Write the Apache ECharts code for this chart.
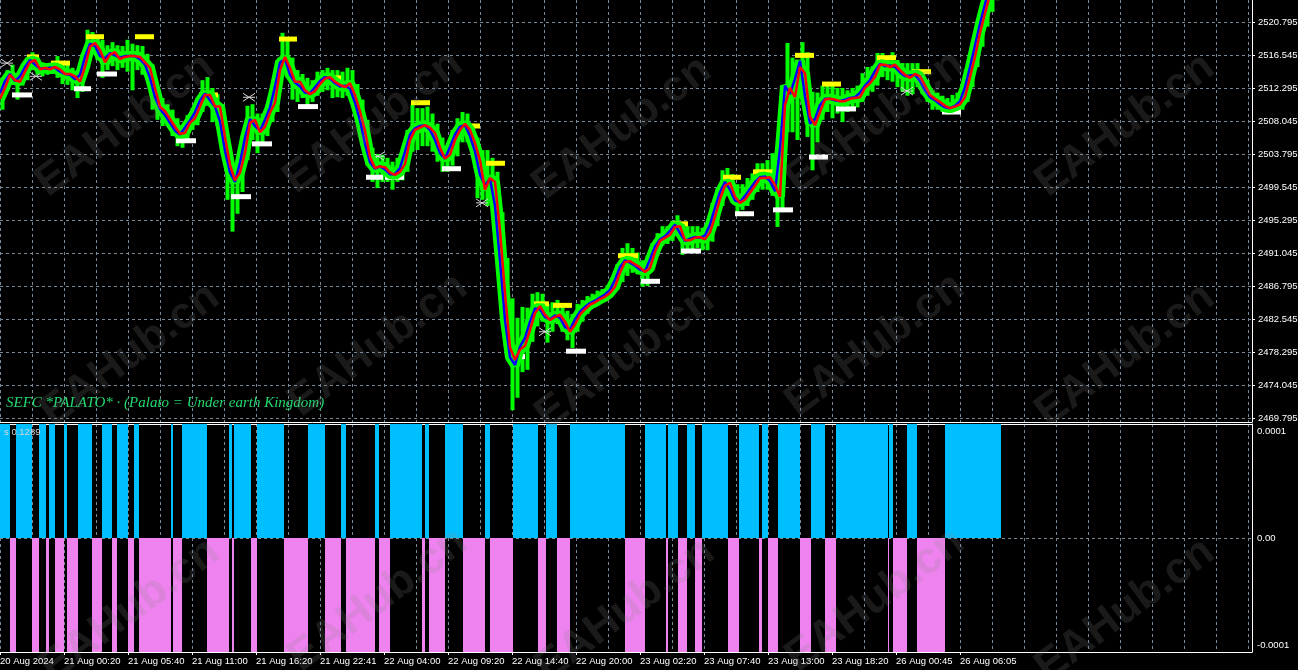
<!DOCTYPE html>
<html><head><meta charset="utf-8">
<script src="https://cdn.jsdelivr.net/npm/echarts@6/dist/echarts.min.js"></script>
<style>html,body{margin:0;padding:0;background:#000;}#chart{width:1298px;height:670px;}</style>
</head><body><div id="chart"></div>
<script>
// ---------- DATA ----------
const timeLabels = ['20 Aug 2024','21 Aug 00:20','21 Aug 05:40','21 Aug 11:00','21 Aug 16:20','21 Aug 22:41','22 Aug 04:00','22 Aug 09:20','22 Aug 14:40','22 Aug 20:00','23 Aug 02:20','23 Aug 07:40','23 Aug 13:00','23 Aug 18:20','26 Aug 00:45','26 Aug 06:05'];
const timeLabelBars = [0,64,128,192,256,320,384,448,512,576,640,704,768,832,896,960];
const priceTicks = [2469.795,2474.045,2478.295,2482.545,2486.795,2491.045,2495.295,2499.545,2503.795,2508.045,2512.295,2516.545,2520.795];
const oscTicks = [-0.0001, 0, 0.0001];
const sampleBars = 5; // each sample below covers 5 M5 bars

const maSlow = [
2510.9,2512.3,2514.0,2513.3,2513.1,2514.4,2515.6,2515.9,2514.7,2514.9,
2514.7,2515.0,2514.7,2514.1,2514.1,2513.8,2513.1,2515.0,2517.6,2518.1,
2517.2,2515.6,2516.6,2516.9,2516.0,2516.3,2516.4,2516.4,2516.3,2515.6,
2514.9,2512.3,2509.9,2509.3,2508.3,2507.3,2506.4,2506.5,2507.8,2508.4,
2509.9,2511.4,2511.4,2509.9,2509.9,2506.0,2502.4,2500.4,2501.4,2503.9,
2507.8,2508.2,2506.6,2507.3,2509.1,2510.4,2514.6,2516.3,2514.9,2513.1,
2513.1,2512.0,2511.5,2511.9,2512.8,2513.5,2513.7,2513.1,2512.7,2512.4,
2512.9,2511.4,2509.3,2506.8,2503.4,2502.0,2502.2,2502.1,2501.4,2501.1,
2501.5,2502.5,2505.6,2506.9,2507.2,2507.5,2507.2,2506.5,2504.6,2503.2,
2503.7,2505.6,2506.9,2507.7,2506.9,2505.2,2503.0,2499.2,2500.7,2500.2,
2494.0,2485.9,2478.9,2477.3,2478.6,2479.1,2481.1,2483.3,2484.2,2483.1,
2482.4,2482.8,2483.1,2482.2,2480.9,2481.8,2483.1,2483.8,2484.4,2484.7,
2485.1,2485.4,2485.9,2486.7,2488.5,2489.9,2490.0,2489.6,2489.2,2488.6,
2489.1,2491.2,2492.6,2493.0,2493.4,2494.4,2494.5,2492.7,2492.7,2493.0,
2493.1,2492.8,2493.7,2495.7,2498.0,2499.7,2500.1,2498.3,2497.5,2497.9,
2498.8,2499.7,2500.7,2500.7,2500.8,2499.8,2498.3,2510.1,2512.3,2511.1,
2515.0,2514.2,2508.6,2507.5,2509.2,2510.8,2510.9,2510.8,2510.6,2510.6,
2510.9,2511.0,2511.1,2512.3,2512.9,2513.7,2515.3,2515.3,2515.0,2515.3,
2514.6,2514.0,2513.6,2514.1,2513.8,2512.6,2511.4,2510.9,2510.5,2510.0,
2509.7,2509.9,2510.2,2511.1,2513.7,2516.3,2519.4,2521.9,2524.3,2526.8];

const maFast = [
2511.6,2513.2,2514.1,2513.2,2513.8,2515.0,2515.9,2515.3,2514.8,2514.8,
2514.9,2514.9,2514.4,2514.1,2514.0,2513.4,2514.0,2516.3,2518.0,2517.7,
2516.4,2516.1,2516.8,2516.5,2516.2,2516.4,2516.4,2516.4,2516.0,2515.3,
2513.6,2511.1,2509.6,2508.8,2507.8,2506.8,2506.3,2507.2,2508.1,2509.2,
2510.7,2511.6,2510.7,2509.9,2508.0,2504.2,2501.4,2500.2,2502.7,2505.9,
2508.3,2507.4,2506.8,2508.2,2509.8,2512.5,2515.6,2516.0,2514.0,2513.0,
2512.5,2511.7,2511.6,2512.4,2513.2,2513.7,2513.5,2512.9,2512.5,2512.6,
2512.2,2510.4,2508.1,2505.1,2502.7,2501.9,2502.2,2501.8,2501.2,2501.2,
2502.0,2504.1,2506.3,2507.1,2507.4,2507.5,2506.9,2505.6,2503.9,2503.2,
2504.7,2506.3,2507.3,2507.5,2506.1,2504.1,2501.1,2499.8,2500.6,2497.1,
2490.0,2482.4,2477.6,2476.6,2479.0,2480.1,2482.2,2483.9,2483.8,2482.8,
2482.5,2483.0,2482.7,2481.5,2481.2,2482.5,2483.5,2484.1,2484.6,2484.9,
2485.3,2485.7,2486.3,2487.6,2489.2,2490.1,2489.8,2489.4,2488.9,2488.7,
2490.2,2491.9,2492.8,2493.2,2493.9,2494.7,2493.6,2492.6,2492.9,2493.1,
2493.0,2493.3,2494.7,2496.9,2498.9,2500.2,2499.2,2497.8,2497.6,2498.4,
2499.3,2500.2,2500.8,2500.9,2500.3,2499.0,2504.5,2512.6,2511.5,2513.5,
2515.8,2511.2,2507.7,2508.3,2510.1,2510.9,2510.9,2510.7,2510.6,2510.8,
2511.0,2511.1,2511.7,2512.6,2513.3,2514.5,2515.4,2515.1,2515.2,2515.0,
2514.3,2513.8,2513.9,2514.0,2513.2,2512.0,2511.1,2510.7,2510.2,2509.8,
2509.7,2510.0,2510.6,2512.4,2515.0,2517.8,2520.6,2523.1,2525.5,2528.0];

const barHigh = [
2513.6,2514.6,2515.3,2514.1,2514.6,2515.9,2516.9,2516.2,2515.6,2515.5,
2515.6,2516.4,2515.4,2515.3,2514.9,2514.6,2516.6,2519.8,2519.5,2519.1,
2518.5,2517.8,2518.2,2517.8,2517.7,2518.5,2518.0,2517.8,2517.7,2516.7,
2515.3,2512.3,2511.0,2510.2,2509.5,2508.4,2507.4,2508.8,2509.7,2511.0,
2513.3,2513.7,2512.3,2511.5,2510.2,2504.6,2502.4,2502.0,2505.0,2510.0,
2510.2,2509.0,2509.0,2510.2,2511.5,2515.9,2519.4,2518.5,2516.2,2514.6,
2514.1,2513.6,2513.3,2514.4,2514.6,2514.9,2514.6,2514.6,2514.4,2514.9,
2514.6,2512.8,2510.8,2508.2,2504.6,2503.8,2503.7,2503.3,2502.8,2503.3,
2504.3,2506.9,2510.1,2509.7,2509.7,2509.9,2509.0,2507.7,2505.9,2504.6,
2506.9,2508.4,2509.2,2509.0,2507.7,2505.9,2504.3,2504.3,2503.3,2501.5,
2496.3,2490.4,2485.2,2482.7,2484.1,2484.0,2485.8,2486.0,2485.8,2484.5,
2484.7,2485.0,2484.0,2483.6,2483.2,2484.5,2485.0,2485.5,2485.8,2486.2,
2486.4,2486.9,2487.8,2489.6,2491.7,2492.3,2491.7,2491.1,2490.1,2490.7,
2492.3,2493.6,2494.5,2494.5,2495.2,2495.9,2495.0,2494.5,2494.5,2494.5,
2494.3,2494.5,2497.5,2499.4,2501.7,2502.0,2501.2,2499.9,2499.9,2500.7,
2501.3,2502.6,2502.6,2503.0,2503.9,2501.5,2511.0,2518.1,2516.2,2514.4,
2518.2,2516.9,2511.8,2511.7,2512.6,2512.8,2512.6,2512.3,2512.3,2512.0,
2512.3,2512.6,2514.2,2515.0,2515.1,2516.8,2516.8,2516.4,2516.9,2515.9,
2515.5,2515.5,2515.5,2515.5,2514.6,2513.3,2512.0,2511.7,2511.3,2511.0,
2511.4,2511.7,2512.3,2514.9,2518.1,2520.7,2523.2,2524.9,2526.2,2527.5];

const barLow = [
2509.5,2512.0,2512.7,2510.8,2512.6,2513.3,2514.6,2514.0,2513.8,2514.0,
2514.1,2513.6,2512.8,2512.7,2512.0,2511.0,2511.8,2515.1,2516.6,2515.9,
2513.6,2514.6,2515.1,2514.6,2514.9,2514.4,2512.0,2514.6,2514.0,2513.3,
2509.5,2508.2,2507.4,2507.4,2506.1,2504.8,2504.6,2505.3,2506.9,2507.5,
2509.2,2510.0,2507.9,2507.4,2504.1,2497.9,2493.8,2496.1,2498.9,2503.0,
2505.6,2503.9,2505.3,2506.1,2507.9,2509.2,2513.8,2513.6,2510.8,2510.5,
2511.0,2510.0,2510.5,2511.3,2511.8,2512.0,2511.0,2511.1,2511.0,2511.3,
2510.8,2507.9,2505.6,2502.3,2500.2,2499.4,2500.2,2500.2,2499.2,2500.2,
2500.4,2501.5,2504.1,2504.3,2504.8,2504.8,2504.1,2502.8,2501.5,2501.5,
2502.3,2503.5,2505.3,2505.3,2504.1,2498.1,2497.9,2497.1,2498.4,2494.0,
2485.5,2479.6,2470.8,2472.4,2475.7,2476.0,2479.6,2481.6,2482.2,2479.5,
2480.9,2481.9,2480.9,2479.8,2478.8,2480.9,2482.2,2483.2,2484.0,2484.5,
2484.9,2485.1,2485.8,2486.3,2487.3,2488.1,2488.5,2488.3,2486.7,2486.8,
2488.9,2490.7,2492.0,2492.2,2492.6,2493.2,2490.8,2491.2,2491.4,2491.7,
2491.4,2491.4,2492.5,2494.5,2497.1,2498.4,2497.6,2496.3,2496.6,2497.1,
2497.9,2498.9,2499.2,2499.2,2498.4,2494.4,2496.3,2506.6,2506.6,2505.6,
2510.5,2506.0,2501.7,2505.3,2508.2,2509.2,2508.4,2509.0,2507.9,2509.2,
2509.5,2509.8,2510.5,2511.3,2511.8,2512.6,2513.7,2513.3,2513.1,2512.4,
2511.8,2511.3,2511.5,2512.4,2511.5,2510.5,2509.5,2509.5,2509.2,2508.9,
2509.2,2509.2,2509.5,2510.5,2512.4,2515.0,2517.6,2520.2,2522.1,2523.6];

// [fromBar, toBar, price]
const resistLevels = [[27,39,2516.3],[51,70,2515.5],[86,104,2518.9],[135,154,2518.9],[199,218,2511.4],[279,297,2518.6],[322,341,2513.6],[411,430,2510.4],[464,480,2507.4],[486,505,2502.6],[534,549,2484.5],[553,572,2484.3],[618,638,2490.7],[673,688,2494.8],[723,741,2500.8],[753,773,2501.5],[795,814,2516.5],[822,841,2512.8],[877,896,2516.2],[912,931,2514.4]];
const supportLevels = [[12,32,2511.4],[74,91,2512.2],[97,117,2514.1],[176,196,2505.5],[231,251,2498.3],[252,272,2505.1],[298,318,2509.9],[366,383,2500.8],[385,404,2500.8],[442,461,2501.9],[508,525,2477.7],[566,586,2478.4],[641,660,2487.4],[681,701,2491.3],[735,754,2496.1],[773,793,2496.6],[809,828,2503.4],[836,856,2509.6],[942,961,2509.2]];
// [bar, price]
const signalMarks = [[7,2515.5],[36,2513.8],[249,2511.1],[378,2503.5],[482,2497.5],[545,2480.9],[907,2511.9]];
// oscillator histogram runs [fromBar, toBar, value]
const oscRuns = [[0,10,0.13],[10,16,-0.13],[16,32,0.13],[32,39,-0.13],[39,46,0.13],[46,49,-0.13],[49,55,0.13],[55,64,-0.13],[64,67,0.13],[67,78,-0.13],[78,92,0.13],[92,102,-0.13],[102,112,0.13],[112,117,-0.13],[117,128,0.13],[128,134,-0.13],[134,139,0.13],[139,171,-0.13],[171,173,0.13],[173,182,-0.13],[182,207,0.13],[207,229,-0.13],[229,232,0.13],[232,234,-0.13],[234,251,0.13],[251,257,-0.13],[257,284,0.13],[284,308,-0.13],[308,325,0.13],[325,341,-0.13],[341,346,0.13],[346,375,-0.13],[375,379,0.13],[379,390,-0.13],[390,422,0.13],[422,425,-0.13],[425,429,0.13],[429,445,-0.13],[445,463,0.13],[463,485,-0.13],[485,490,0.13],[490,513,-0.13],[513,538,0.13],[538,546,-0.13],[546,557,0.13],[557,570,-0.13],[570,625,0.13],[625,645,-0.13],[645,666,0.13],[666,668,-0.13],[668,678,0.13],[678,687,-0.13],[687,695,0.13],[695,702,-0.13],[702,728,0.13],[728,739,-0.13],[739,759,0.13],[759,762,-0.13],[762,768,0.13],[768,778,-0.13],[778,800,0.13],[800,811,-0.13],[811,825,0.13],[825,836,-0.13],[836,888,0.13],[888,889,-0.13],[889,893,0.13],[893,907,-0.13],[907,917,0.13],[917,945,-0.13],[945,1001,0.13]];

// ---------- CHART ----------
const chart = echarts.init(document.getElementById('chart'), null, {renderer:'canvas'});
const gridColor = '#778899';
const font = '"Liberation Sans", Arial, sans-serif';
const split = {show:true, lineStyle:{color:gridColor, type:[3,3], width:1}};
const priceGreen = '#00ff00';

function clipTo(params, x, y, w, h) {
  const cs = params.coordSys;
  return echarts.graphic.clipRectByRect({x:x, y:y, width:w, height:h}, {x:cs.x, y:cs.y, width:cs.width, height:cs.height});
}
function levelRect(color) {
  return function (params, api) {
    const a = api.coord([api.value(0), api.value(2)]);
    const b = api.coord([api.value(1), api.value(2)]);
    const r = clipTo(params, a[0], a[1] - 2.5, b[0] - a[0], 5);
    return r ? {type:'rect', shape:r, style:{fill:color}} : null;
  };
}
function maLine(name, values, color, width) {
  return {type:'line', name:name, xAxisIndex:0, yAxisIndex:0, silent:true, symbol:'none',
    data:values.map(function(v,i){return [i*sampleBars, v];}), lineStyle:{color:color, width:width}};
}

const wmCenters = [[125,125],[373,122],[622,128],[875,122],[1125,125],[130,355],[378,345],[625,358],[875,345],[1125,355],[130,610],[378,600],[625,610],[875,600],[1125,610]];

chart.setOption({
  backgroundColor:'#000000',
  animation:false,
  grid:[
    {left:0, top:0, width:1252, height:422, outerBoundsMode:'none', containLabel:false},
    {left:0, top:424, width:1252, height:228, outerBoundsMode:'none', containLabel:false}
  ],
  xAxis:[
    {gridIndex:0, type:'value', min:0, max:1252, interval:32, position:'bottom',
     axisLine:{show:true, onZero:false, lineStyle:{color:'#ffffff', width:1}}, axisTick:{show:false}, axisLabel:{show:false}, splitLine:split},
    {gridIndex:1, type:'value', min:0, max:1252, interval:32, position:'top',
     axisLine:{show:true, onZero:false, lineStyle:{color:'#ffffff', width:1}}, axisTick:{show:false}, axisLabel:{show:false}, splitLine:split},
    {gridIndex:1, type:'value', min:0, max:1252, position:'bottom',
     axisLine:{show:true, onZero:false, lineStyle:{color:'#ffffff', width:1}},
     axisTick:{show:true, length:3, customValues:timeLabelBars, lineStyle:{color:'#ffffff'}},
     axisLabel:{customValues:timeLabelBars, formatter:function(v){const k=timeLabelBars.indexOf(v);return k>=0?timeLabels[k]:'';},
       color:'#ffffff', align:'left', margin:4, fontSize:9.5, fontFamily:font},
     splitLine:{show:false}}
  ],
  yAxis:[
    {gridIndex:0, type:'value', position:'right', min:2469.280, max:2523.628,
     axisLine:{show:true, onZero:false, lineStyle:{color:'#ffffff', width:1}},
     axisTick:{show:true, length:3, customValues:priceTicks, lineStyle:{color:'#ffffff'}},
     axisLabel:{customValues:priceTicks, formatter:function(v){return v.toFixed(3);}, color:'#ffffff', margin:6, fontSize:9.5, fontFamily:font},
     splitLine:split},
    {gridIndex:1, type:'value', position:'right', min:-0.00010654, max:0.00010654,
     axisLine:{show:true, onZero:false, lineStyle:{color:'#ffffff', width:1}},
     axisTick:{show:false, customValues:[0]},
     axisLabel:{customValues:oscTicks, formatter:function(v){return v===0?'0.00':(v>0?'0.0001':'-0.0001');}, color:'#ffffff', margin:5, fontSize:9.5, fontFamily:font},
     splitLine:split}
  ],
  series:[
    // price bar ranges (high-low) as vertical strokes
    {type:'custom', name:'bars', xAxisIndex:0, yAxisIndex:0, silent:true,
     data:barHigh.map(function(h,i){return [i*sampleBars, barLow[i], h];}),
     encode:{x:0, y:[1,2]},
     renderItem:function(params, api){
       const x = api.value(0);
       const a = api.coord([x + 0.5, api.value(2)]);
       const b = api.coord([x + 4.5, api.value(1)]);
       const r = clipTo(params, a[0], a[1], b[0]-a[0], b[1]-a[1]);
       return r ? {type:'rect', shape:r, style:{fill:priceGreen}} : null;
     }},
    // dense price body around the averages
    maLine('bodySlow', maSlow, priceGreen, 10),
    maLine('bodyFast', maFast, priceGreen, 10),
    maLine('fast', maFast, '#0000ff', 2.5),
    maLine('slow', maSlow, '#ff0000', 2.5),
    {type:'custom', name:'resist', xAxisIndex:0, yAxisIndex:0, silent:true, data:resistLevels, encode:{x:[0,1], y:2}, renderItem:levelRect('#ffff00')},
    {type:'custom', name:'support', xAxisIndex:0, yAxisIndex:0, silent:true, data:supportLevels, encode:{x:[0,1], y:2}, renderItem:levelRect('#ffffff')},
    {type:'custom', name:'signals', xAxisIndex:0, yAxisIndex:0, silent:true, data:signalMarks, encode:{x:0, y:1},
     renderItem:function(params, api){
       const c = api.coord([api.value(0), api.value(1)]);
       const s = {stroke:'#d8d8d8', lineWidth:1};
       return {type:'group', children:[
         {type:'line', shape:{x1:c[0]-6, y1:c[1]-4, x2:c[0]+6, y2:c[1]+4}, style:s},
         {type:'line', shape:{x1:c[0]-6, y1:c[1]+4, x2:c[0]+6, y2:c[1]-4}, style:s},
         {type:'line', shape:{x1:c[0]-6, y1:c[1], x2:c[0]+6, y2:c[1]}, style:s}
       ]};
     }},
    {type:'custom', name:'osc', xAxisIndex:2, yAxisIndex:1, silent:true, data:oscRuns, encode:{x:[0,1], y:2},
     renderItem:function(params, api){
       const v = api.value(2);
       const a = api.coord([api.value(0), v]);
       const b = api.coord([api.value(1), 0]);
       const r = clipTo(params, a[0], Math.min(a[1], b[1]), b[0]-a[0], Math.abs(b[1]-a[1]));
       return r ? {type:'rect', shape:r, style:{fill: v > 0 ? '#00bfff' : '#ee82ee'}} : null;
     }}
  ],
  graphic: wmCenters.map(function(p){
    return {type:'text', x:p[0], y:p[1], rotation:0.64, z:100, silent:true,
      style:{text:'EAHub.cn', fill:'rgba(140,140,140,0.19)', font:'bold 44px "Liberation Sans", Arial, sans-serif', textAlign:'center', textVerticalAlign:'middle'}};
  }).concat([
    {type:'text', x:6, y:403, z:50, silent:true,
     style:{text:'SEFC *PALATO* · (Palato = Under earth Kingdom)', fill:'#22d86e', font:'italic 15px "Liberation Serif", serif', textVerticalAlign:'middle'}},
    {type:'text', x:4, y:432, z:50, silent:true,
     style:{text:'s 0.1289', fill:'#d8d8d8', font:'9.5px "Liberation Sans", Arial, sans-serif', textVerticalAlign:'middle'}}
  ])
});
</script>
</body></html>
